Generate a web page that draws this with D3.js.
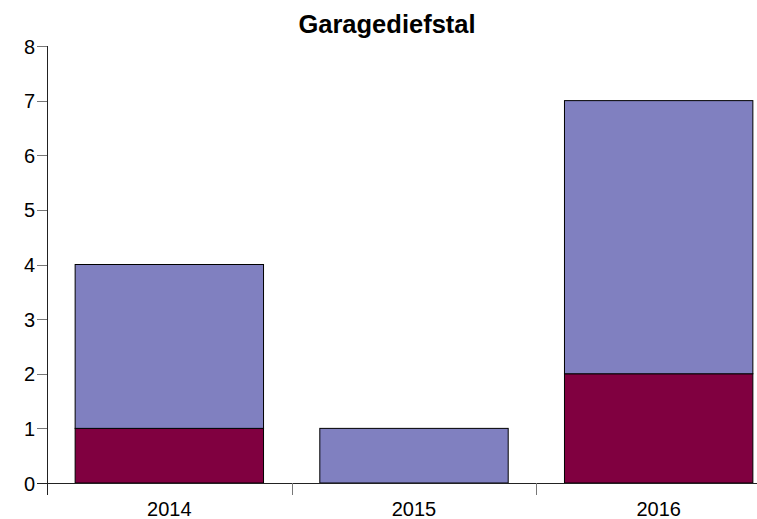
<!DOCTYPE html>
<html><head><meta charset="utf-8">
<script src="https://d3js.org/d3.v7.min.js"></script>
<style>body{margin:0;background:#fff}svg{display:block}text{font-family:"Liberation Sans",Arial,sans-serif}</style>
</head><body>
<script>
const categories = ["2014","2015","2016"];
const seriesBottom = [1,0,2];
const seriesTop = [3,1,5];
const yTicks = [0,1,2,3,4,5,6,7,8];
const title = "Garagediefstal";

const W=757,H=519;
const svg=d3.select("body").append("svg").attr("width",W).attr("height",H);
const x=d3.scaleBand().domain(categories).range([47,781]).padding(0);
const y=d3.scaleLinear().domain([0,8]).range([483,46]);
const inset = x.bandwidth()*0.115;

svg.append("text").attr("x",387).attr("y",33).attr("text-anchor","middle")
  .attr("font-size",25.5).attr("font-weight","bold").text(title);

const stack=categories.map((c,i)=>({c,b:seriesBottom[i],t:seriesTop[i]}));
const g=svg.append("g");
stack.forEach(d=>{
  const x0=x(d.c)+inset, w=x.bandwidth()-2*inset;
  if(d.b>0) g.append("rect").attr("x",x0).attr("y",y(d.b)).attr("width",w).attr("height",y(0)-y(d.b))
    .attr("fill","#800040").attr("stroke","#000").attr("stroke-width",1);
  if(d.t>0) g.append("rect").attr("x",x0).attr("y",y(d.b+d.t)).attr("width",w).attr("height",y(d.b)-y(d.b+d.t))
    .attr("fill","#8080c0").attr("stroke","#000").attr("stroke-width",1);
});

// y axis
const ya=svg.append("g");
ya.append("line").attr("x1",47.5).attr("x2",47.5).attr("y1",46).attr("y2",495).attr("stroke","#222");
yTicks.forEach(t=>{
  ya.append("line").attr("x1",37).attr("x2",47).attr("y1",Math.round(y(t))+0.5).attr("y2",Math.round(y(t))+0.5).attr("stroke","#777");
  ya.append("text").attr("x",35).attr("y",y(t)+7.5).attr("text-anchor","end").attr("font-size",20).text(t);
});
// x axis
const xa=svg.append("g");
xa.append("line").attr("x1",37).attr("x2",W).attr("y1",483.5).attr("y2",483.5).attr("stroke","#222");
categories.forEach((c,i)=>{
  if(i>0){const xp=Math.round(x(c))+0.5;
    xa.append("line").attr("x1",xp).attr("x2",xp).attr("y1",483).attr("y2",495).attr("stroke","#777");}
  xa.append("text").attr("x",x(c)+x.bandwidth()/2).attr("y",516).attr("text-anchor","middle").attr("font-size",20).text(c);
});
</script>
</body></html>
